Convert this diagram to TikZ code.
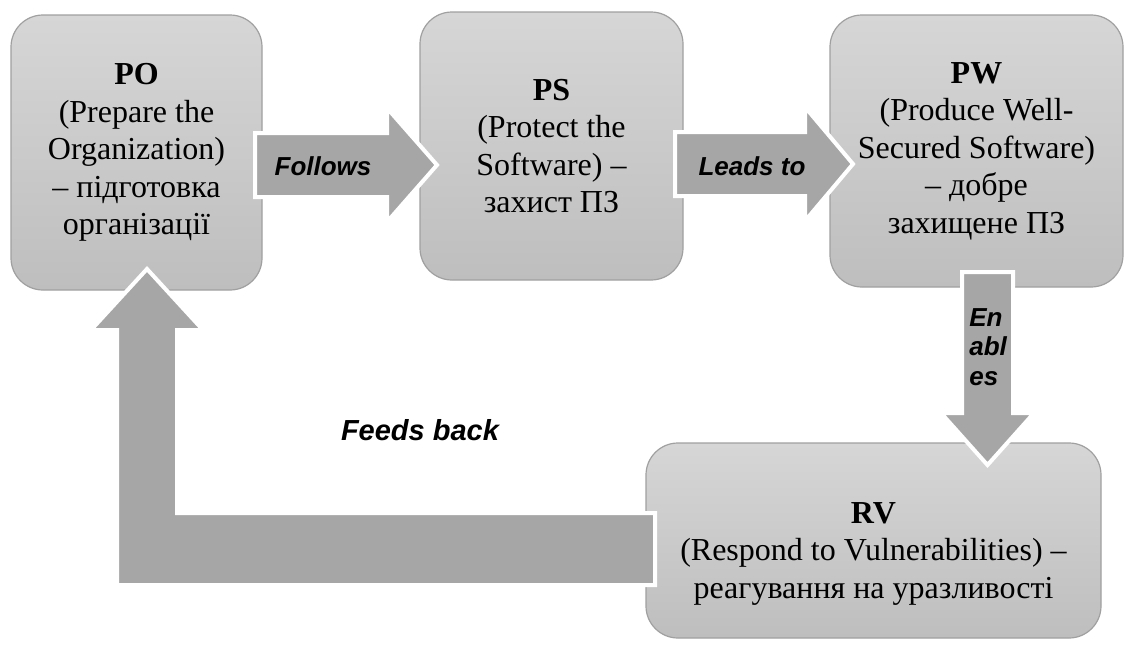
\documentclass[tikz,border=0pt]{standalone}
\usepackage{fontspec}
\setmainfont{Liberation Serif}
\newfontfamily\labelfont{Liberation Sans}
\usepackage{tikz}
\usetikzlibrary{calc,positioning}
\definecolor{boxtop}{RGB}{214,214,214}
\definecolor{boxbottom}{RGB}{190,190,190}
\definecolor{boxline}{RGB}{160,160,160}
\definecolor{arrowgray}{RGB}{166,166,166}
\tikzset{
  phase/.style={draw=boxline, line width=0.6pt, rounded corners=16pt,
    top color=boxtop, bottom color=boxbottom, align=center, inner sep=0pt,
    font=\fontsize{16}{18.75}\selectfont},
  phasetext/.style={align=center, inner sep=0pt, font=\fontsize{16}{18.75}\selectfont},
  fat/.style={fill=arrowgray, draw=white, line width=2pt, line join=miter},
  lbl/.style={inner sep=0pt, font=\labelfont\bfseries\itshape\fontsize{13}{14.75}\selectfont}
}

\begin{document}
\begin{tikzpicture}[x=0.5pt, y=-0.5pt]
      \useasboundingbox (0,0) rectangle (1126,648);
      % the four phases
      \node[phase, minimum width=125.5pt, minimum height=137.5pt] at (136.5,152.5) (po) {
      \textbf{PO}\\(Prepare the\\Organization)\\– підготовка\\організації};
      \node[phase, minimum width=131.5pt, minimum height=134pt] at (551.5,146) (ps) {
      \textbf{PS}\\(Protect the\\Software) –\\захист ПЗ};
      \node[phase, minimum width=146.5pt, minimum height=136pt] at (976.5,151) (pw) {
      \textbf{PW}\\(Produce Well-\\Secured Software)\\– добре\\захищене ПЗ};
      \node[phase, minimum width=227.5pt, minimum height=97.5pt] at (873.5,540.5) (rv) {};
      \node[phasetext] at ($(rv.center)+(0,13)$) (rvtext) {
      \textbf{RV}\\(Respond to Vulnerabilities) –\\реагування на уразливості};
      % block arrows
      \coordinate (fa) at (255,165);
      \coordinate (fb) at (437,165);
      \coordinate (la) at (675,164);
      \coordinate (lb) at (853,164);
      \coordinate (ea) at (987.5,272);
      \coordinate (eb) at (987.5,465);
      \coordinate (ba) at (655,549);
      \coordinate (bb) at (147,269);
      \draw[fat] ($(fa)+(0,-32)$) -- ($(fb)+(-50,-32)$) -- ($(fb)+(-50,-57)$) -- (fb)
        -- ($(fb)+(-50,57)$) -- ($(fb)+(-50,32)$) -- ($(fa)+(0,32)$) -- cycle;
      \draw[fat] ($(la)+(0,-32)$) -- ($(lb)+(-48,-32)$) -- ($(lb)+(-48,-57)$) -- (lb)
        -- ($(lb)+(-48,57)$) -- ($(lb)+(-48,32)$) -- ($(la)+(0,32)$) -- cycle;
      \draw[fat] ($(ea)+(-25.5,0)$) -- ($(eb)+(-25.5,-52)$) -- ($(eb)+(-46.5,-52)$) -- (eb)
        -- ($(eb)+(46.5,-52)$) -- ($(eb)+(25.5,-52)$) -- ($(ea)+(25.5,0)$) -- cycle;
      \draw[fat] ($(ba)+(0,-36)$) -- ($(bb)+(30,244)$) -- ($(bb)+(30,61)$) -- ($(bb)+(56,61)$)
        -- (bb) -- ($(bb)+(-56,61)$) -- ($(bb)+(-30,61)$) -- ($(bb)+(-30,316)$)
        -- ($(ba)+(0,36)$) -- cycle;
      % arrow labels
      \node[lbl] at (323,166) (follows) {Follows};
      \node[lbl] at (752,166) (leadsto) {Leads to};
      \node[lbl, align=left, anchor=west] at (969,347) (enables) {En\\abl\\es};
      \node[lbl, font=\labelfont\bfseries\itshape\fontsize{14.5}{16}\selectfont] at (420,430) (feedsback) {Feeds back};
\end{tikzpicture}
\end{document}
